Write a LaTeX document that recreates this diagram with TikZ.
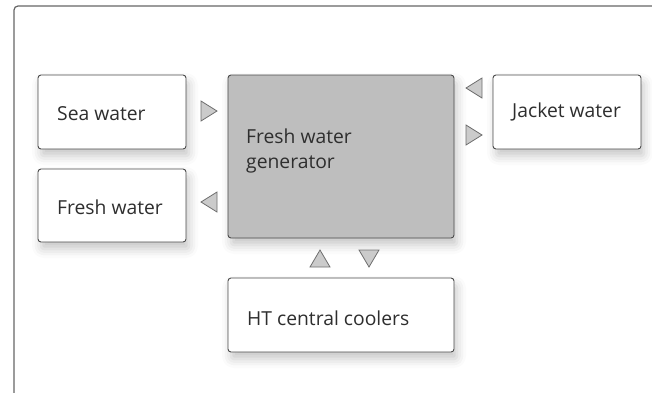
\documentclass[tikz,border=0pt]{standalone}
\usepackage{fontspec}
\setmainfont{Open Sans}
\usetikzlibrary{shadows.blur}
\definecolor{fwg}{HTML}{BEBEBE}
\definecolor{edge}{HTML}{4A4A4A}
\definecolor{tri}{HTML}{CBCBCB}
\begin{document}
\begin{tikzpicture}[x=1pt,y=-1pt,
  box/.style={draw=edge,line width=0.9pt,rounded corners=3pt,fill=white,
    blur shadow={shadow xshift=3pt,shadow yshift=-7pt,shadow blur radius=9pt,shadow opacity=22}},
  lbl/.style={anchor=west,font=\fontsize{19.3}{25}\selectfont,text=black!82,align=left,inner sep=0pt},
  arr/.style={draw=edge!80,line width=0.8pt,fill=tri,line join=miter}]
\useasboundingbox (0,0) rectangle (652,392);
\begin{scope}
\clip (0,0) rectangle (652,392);
\draw[draw=black!60,line width=1.2pt,rounded corners=4pt] (14,6) rectangle (680,420);
\end{scope}
% boxes
\path[box] (38,75) rectangle (186,149) coordinate (sea);
\path[box] (38,169) rectangle (186,242) coordinate (fresh);
\path[box,fill=fwg] (228,75) rectangle (454,238) coordinate (fwgc);
\path[box] (493,75) rectangle (641,149) coordinate (jack);
\path[box] (228,278) rectangle (454,352) coordinate (ht);
% labels
\node[lbl] (seat) at (57,114) {Sea water};
\node[lbl] (frt) at (57,207) {Fresh water};
\node[lbl] (fwgt) at (246,151) {Fresh water\\generator};
\node[lbl] (jt) at (512,112) {Jacket water};
\node[lbl] (htt) at (247,318) {HT central coolers};
% triangles
\coordinate (t1) at (201,101);
\draw[arr] (t1) -- ++(0,20) -- ++(16,-10) -- cycle;
\coordinate (t2) at (217,192);
\draw[arr] (t2) -- ++(0,20) -- ++(-16,-10) -- cycle;
\coordinate (t3) at (482,78);
\draw[arr] (t3) -- ++(0,20) -- ++(-16,-10) -- cycle;
\coordinate (t4) at (466,125);
\draw[arr] (t4) -- ++(0,20) -- ++(16,-10) -- cycle;
\coordinate (t5) at (310,267);
\draw[arr] (t5) -- ++(20,0) -- ++(-10,-17) -- cycle;
\coordinate (t6) at (359,250);
\draw[arr] (t6) -- ++(20,0) -- ++(-10,17) -- cycle;
\end{tikzpicture}
\end{document}
